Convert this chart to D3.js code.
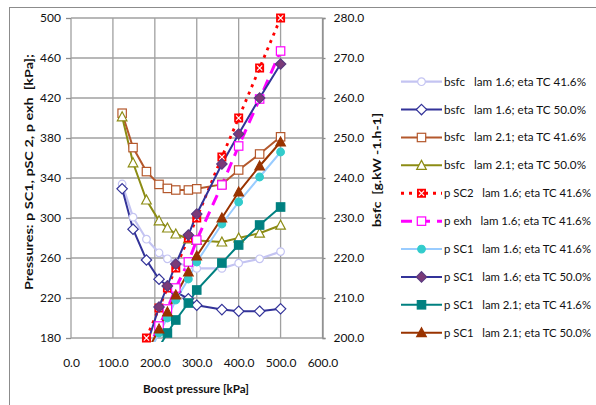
<!DOCTYPE html>
<html>
<head>
<meta charset="utf-8">
<script src="https://cdn.jsdelivr.net/npm/d3@7"></script>
<style>
  body { margin: 0; background: #fff; }
  svg text { font-family: Lato, "Open Sans", sans-serif; fill: #111; }
</style>
</head>
<body>
<svg id="chart" width="596" height="405"></svg>
<script>
// boost pressure [kPa] (shared x)
const boost = [122, 148, 180, 210, 230, 250, 280, 300, 360, 400, 450, 500];

// bsfc [g/kWh] -> right axis
const bsfc16_416 = [238.5, 230.2, 224.7, 221.3, 219.8, 218.8, 218.0, 217.4, 217.4, 218.7, 219.8, 221.6];
const bsfc16_500 = [237.3, 227.2, 219.5, 214.7, 213.0, 211.5, 209.8, 208.2, 207.1, 206.7, 206.7, 207.3];
const bsfc21_416 = [256.2, 247.6, 241.6, 238.4, 237.4, 237.0, 237.0, 237.3, 238.4, 242.0, 246.0, 250.3];
const bsfc21_500 = [255.3, 243.8, 234.5, 229.3, 227.5, 226.0, 224.8, 224.4, 224.0, 225.0, 226.2, 228.2];

// pressures [kPa] -> left axis
const pSC2_16_416 = [null, null, 180, 210, 230, 250, 280, 300, 361, 400, 450, 500];
const pExh_16_416 = [null, null, 165, 192, 209, 230, 256, 278, 333, 372, 419, 467];
const pSC1_16_416 = [null, null, 160, 185, 200, 218, 239, 256, 294, 316, 341, 366];
const pSC1_16_500 = [null, null, 172, 211, 232, 254, 283, 304, 354, 384, 420, 454];
const pSC1_21_416 = [null, null, 150, 171, 185, 198, 215, 228, 255, 273, 293, 311];
const pSC1_21_500 = [null, null, 165, 189, 206, 223, 246, 262, 300, 326, 352, 376];

const xTicks = [0, 100, 200, 300, 400, 500, 600];
const leftTicks = [180, 220, 260, 300, 340, 380, 420, 460, 500];
const rightTicks = [200, 210, 220, 230, 240, 250, 260, 270, 280];

const series = [
  {label: "bsfc   lam 1.6; eta TC 41.6%", values: bsfc16_416, axis: "R", color: "#c4c4f2", mark: "circle", fill: "#fff", mcol: "#c4c4f2", w: 2.2},
  {label: "bsfc   lam 1.6; eta TC 50.0%", values: bsfc16_500, axis: "R", color: "#333399", mark: "diamond", fill: "#fff", mcol: "#333399", w: 2},
  {label: "bsfc   lam 2.1; eta TC 41.6%", values: bsfc21_416, axis: "R", color: "#b4582c", mark: "square", fill: "#fff", mcol: "#b4582c", w: 2},
  {label: "bsfc   lam 2.1; eta TC 50.0%", values: bsfc21_500, axis: "R", color: "#8c8c14", mark: "triangle", fill: "#fff", mcol: "#8c8c14", w: 2},
  {label: "p SC2   lam 1.6; eta TC 41.6%", values: pSC2_16_416, axis: "L", color: "#ff0000", mark: "xsquare", fill: "#ff0000", mcol: "#ff0000", w: 2.8, dash: "3,5"},
  {label: "p exh   lam 1.6; eta TC 41.6%", values: pExh_16_416, axis: "L", color: "#ff00ff", mark: "square", fill: "#fff", mcol: "#ff00ff", w: 3, dash: "11,7"},
  {label: "p SC1   lam 1.6; eta TC 41.6%", values: pSC1_16_416, axis: "L", color: "#99ccff", mark: "circle", fill: "#33cccc", mcol: "#33cccc", w: 2},
  {label: "p SC1   lam 1.6; eta TC 50.0%", values: pSC1_16_500, axis: "L", color: "#333399", mark: "diamond", fill: "#7b3a78", mcol: "#5a3a80", w: 2},
  {label: "p SC1   lam 2.1; eta TC 41.6%", values: pSC1_21_416, axis: "L", color: "#008080", mark: "square", fill: "#008080", mcol: "#008080", w: 2},
  {label: "p SC1   lam 2.1; eta TC 50.0%", values: pSC1_21_500, axis: "L", color: "#993300", mark: "triangle", fill: "#993300", mcol: "#993300", w: 2}
];

const svg = d3.select("#chart");
const plot = {left: 71, right: 322.5, top: 18, bottom: 338};

const x = d3.scaleLinear().domain([0, 600]).range([plot.left, plot.right]);
const yL = d3.scaleLinear().domain([180, 500]).range([plot.bottom, plot.top]);
const yR = d3.scaleLinear().domain([200, 280]).range([plot.bottom, plot.top]);

// outer chart frame
svg.append("rect").attr("x", 9.5).attr("y", 7.5).attr("width", 600).attr("height", 420)
  .attr("fill", "none").attr("stroke", "#8c8c8c").attr("stroke-width", 1);

// grid
svg.append("g").selectAll("line").data(xTicks).join("line")
  .attr("x1", d => x(d)).attr("x2", d => x(d))
  .attr("y1", plot.top).attr("y2", plot.bottom)
  .attr("stroke", "#a0a0a0").attr("stroke-width", 1.3);
svg.append("g").selectAll("line").data(leftTicks).join("line")
  .attr("x1", plot.left).attr("x2", plot.right)
  .attr("y1", d => yL(d)).attr("y2", d => yL(d))
  .attr("stroke", "#a0a0a0").attr("stroke-width", 1.3);

// axes
const axL = svg.append("g").attr("transform", `translate(${plot.left},0)`)
  .call(d3.axisLeft(yL).tickValues(leftTicks).tickSize(5).tickPadding(5).tickFormat(d3.format("d")));
const axR = svg.append("g").attr("transform", `translate(${plot.right},0)`)
  .call(d3.axisRight(yR).tickValues(rightTicks).tickSize(3).tickPadding(8).tickFormat(d3.format(".1f")));
const axB = svg.append("g").attr("transform", `translate(0,${plot.bottom})`)
  .call(d3.axisBottom(x).tickValues(xTicks).tickSize(0).tickPadding(20).tickFormat(d3.format(".1f")));
[axL, axR, axB].forEach(a => {
  a.select(".domain").attr("stroke", "#8c8c8c").attr("stroke-width", 1.3);
  a.selectAll(".tick line").attr("stroke", "#8c8c8c").attr("stroke-width", 1.3);
  a.selectAll("text").style("font-size", "12px").attr("fill", "#111");
});
axL.select(".domain").remove();
axB.select(".domain").remove();

// axis titles (lengths matched to the reference)
function title(txt, tr, len) {
  svg.append("text").attr("transform", tr)
    .attr("text-anchor", "middle").style("font-size", "12px").style("font-weight", "bold")
    .style("white-space", "pre")
    .attr("textLength", len).attr("lengthAdjust", "spacingAndGlyphs")
    .text(txt);
}
title("Pressures: p SC1, pSC 2, p exh  [kPa];", "translate(33,172) rotate(-90)", 236);
title("bsfc  [g.kW -1.h-1]", "translate(381,170) rotate(-90)", 114);
title("Boost pressure [kPa]", "translate(196,393)", 106);

// marker drawing
function marker(g, s, cx, cy) {
  const m = g.append("g").attr("transform", `translate(${cx},${cy})`);
  if (s.mark === "circle") {
    m.append("circle").attr("r", 3.8).attr("fill", s.fill).attr("stroke", s.mcol).attr("stroke-width", 1.2);
  } else if (s.mark === "diamond") {
    m.append("path").attr("d", "M0,-5.2L5.2,0L0,5.2L-5.2,0Z").attr("fill", s.fill).attr("stroke", s.mcol).attr("stroke-width", 1.2);
  } else if (s.mark === "square") {
    m.append("rect").attr("x", -4.2).attr("y", -4.2).attr("width", 8.4).attr("height", 8.4)
      .attr("fill", s.fill).attr("stroke", s.mcol).attr("stroke-width", 1.2);
  } else if (s.mark === "triangle") {
    m.append("path").attr("d", "M0,-5L4.8,4L-4.8,4Z").attr("fill", s.fill).attr("stroke", s.mcol).attr("stroke-width", 1.2);
  } else if (s.mark === "xsquare") {
    m.append("rect").attr("x", -4.5).attr("y", -4.5).attr("width", 9).attr("height", 9).attr("fill", s.fill);
    m.append("path").attr("d", "M-2.6,-2.6L2.6,2.6M2.6,-2.6L-2.6,2.6").attr("stroke", "#fff").attr("stroke-width", 1.2);
  }
}

// clip for lines
svg.append("clipPath").attr("id", "clip").append("rect")
  .attr("x", plot.left).attr("y", plot.top - 2).attr("width", plot.right - plot.left).attr("height", plot.bottom - plot.top + 6);

const linesG = svg.append("g").attr("clip-path", "url(#clip)");
const marksG = svg.append("g");

series.forEach(s => {
  const y = s.axis === "L" ? yL : yR;
  const pts = boost.map((b, i) => [b, s.values[i]]).filter(p => p[1] != null);
  const line = d3.line().x(p => x(p[0])).y(p => y(p[1]));
  linesG.append("path").datum(pts).attr("d", line)
    .attr("fill", "none").attr("stroke", s.color).attr("stroke-width", s.w)
    .attr("stroke-dasharray", s.dash || null);
  const g = marksG.append("g");
  pts.filter(p => y(p[1]) <= plot.bottom + 1 && y(p[1]) >= plot.top - 1)
    .forEach(p => marker(g, s, x(p[0]), y(p[1])));
});

// legend
const legend = svg.append("g");
const legY = d3.scaleLinear().domain([0, series.length - 1]).range([81.7, 332.7]);
series.forEach((s, i) => {
  const cy = legY(i);
  legend.append("line").attr("x1", 401).attr("x2", 442).attr("y1", cy).attr("y2", cy)
    .attr("stroke", s.color).attr("stroke-width", s.w).attr("stroke-dasharray", s.dash || null);
  marker(legend, s, 421.5, cy);
  legend.append("text").attr("x", 444).attr("y", cy + 4).style("font-size", "11px")
    .style("white-space", "pre")
    .attr("textLength", s.axis === "R" ? 142 : 147).attr("lengthAdjust", "spacingAndGlyphs")
    .text(s.label);
});
</script>
</body>
</html>
